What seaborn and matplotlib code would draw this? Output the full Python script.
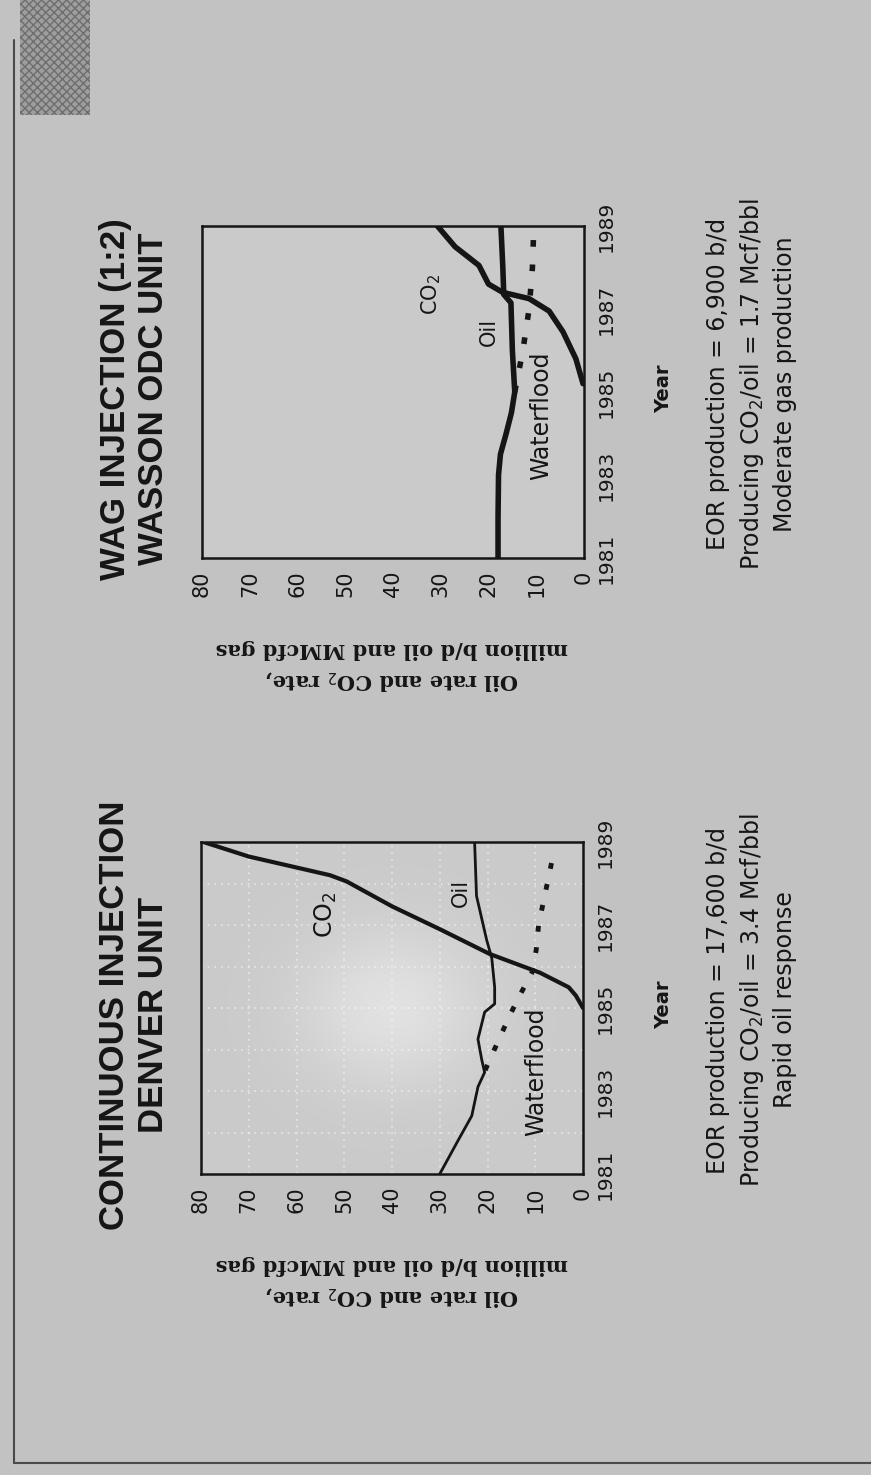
import numpy as np
import pandas as pd
import matplotlib
matplotlib.use("Agg")
import matplotlib.pyplot as plt
import seaborn as sns
from matplotlib.patches import Rectangle
from matplotlib.lines import Line2D

# ---- Wasson ODC Unit, WAG injection (1:2) ----
wag_oil_year = [1981.0, 1982.0, 1983.0, 1983.5, 1984.0, 1984.5, 1985.0, 1986.0, 1987.15, 1987.35, 1988.0, 1989.0]
wag_oil_rate = [18.0, 18.0, 17.9, 17.5, 16.3, 15.2, 14.5, 15.0, 15.3, 16.8, 17.0, 17.4]
wag_co2_year = [1985.2, 1985.8, 1986.45, 1986.95, 1987.25, 1987.4, 1987.6, 1988.05, 1988.5, 1989.0]
wag_co2_rate = [0.2, 1.7, 4.4, 7.3, 11.5, 17.0, 20.0, 22.0, 27.0, 30.7]
wag_wf_year = [1985.0, 1986.0, 1987.0, 1988.0, 1989.0]
wag_wf_rate = [14.5, 12.8, 11.5, 10.8, 10.5]

# ---- Denver Unit, continuous injection ----
cont_oil_year = [1981.0, 1981.8, 1982.4, 1983.1, 1983.45, 1983.75, 1984.25, 1984.9, 1985.1, 1985.5, 1986.2, 1986.65, 1987.7, 1989.0]
cont_oil_rate = [30.0, 26.2, 23.3, 22.0, 20.6, 21.2, 22.0, 20.6, 18.5, 18.5, 19.1, 20.2, 22.3, 22.7]
cont_co2_year = [1985.0, 1985.3, 1985.5, 1985.85, 1986.3, 1986.9, 1987.45, 1988.05, 1988.2, 1988.65, 1989.0]
cont_co2_rate = [0.0, 1.5, 3.0, 9.0, 19.5, 30.0, 40.0, 49.5, 53.0, 70.0, 79.5]
cont_wf_year = [1983.5, 1984.4, 1984.9, 1985.4, 1985.85, 1986.4, 1987.0, 1987.5, 1988.1, 1988.6, 1988.85]
cont_wf_rate = [20.5, 17.0, 15.0, 12.8, 10.7, 9.8, 9.3, 8.4, 7.3, 6.4, 6.0]

# ---- axis ticks and text ----
rate_ticks = [0, 10, 20, 30, 40, 50, 60, 70, 80]
year_ticks = [1981, 1983, 1985, 1987, 1989]
wag_title = ["WAG INJECTION (1:2)", "WASSON ODC UNIT"]
cont_title = ["CONTINUOUS INJECTION", "DENVER UNIT"]
wag_notes = ["EOR production = 6,900 b/d",
             "Producing CO$_2$/oil = 1.7 Mcf/bbl",
             "Moderate gas production"]
cont_notes = ["EOR production = 17,600 b/d",
              "Producing CO$_2$/oil = 3.4 Mcf/bbl",
              "Rapid oil response"]
rate_label = "Oil rate and CO$_2$ rate,\nmillion b/d oil and MMcfd gas"
year_label = "Year"

W, H = 871, 1475
PAGE = "#c2c2c2"
PANEL = "#cacaca"
INK = "#151515"

sns.set_style("white")
plt.rcParams["font.family"] = ["DejaVu Sans"]
plt.rcParams["mathtext.fontset"] = "dejavusans"

fig = plt.figure(figsize=(W / 100, H / 100), dpi=100)
fig.patch.set_facecolor(PAGE)


def fx(px):
    return px / W


def fy(py):
    return 1 - py / H


def draw_panel(left, top, series, labels, glow=False, grid=False):
    ax = fig.add_axes([fx(left), fy(top + 332), fx(382), 332 / H])
    ax.set_facecolor(PANEL)
    if glow:
        gx, gy = np.meshgrid(np.linspace(0, 1, 200), np.linspace(0, 1, 200))
        r2 = (gx - 0.5) ** 2 + (gy - 0.5) ** 2
        img = np.ones((200, 200, 4))
        img[..., 3] = 0.45 * np.exp(-r2 / 0.06)
        ax.imshow(img, extent=(0, 1, 0, 1), transform=ax.transAxes,
                  aspect="auto", zorder=0.2, interpolation="bilinear")
    if grid:
        for v in rate_ticks[1:-1]:
            ax.axvline(v, color="white", lw=1.2, ls=(0, (1, 3)), alpha=0.55, zorder=0.5)
        for t in range(1982, 1989):
            ax.axhline(t, color="white", lw=1.2, ls=(0, (1, 3)), alpha=0.55, zorder=0.5)
    for (rate, year, lw, ls) in series:
        df = pd.DataFrame({"rate": rate, "year": year})
        kw = dict(color=INK, lw=lw, zorder=3)
        if ls is not None:
            kw.update(linestyle=ls, dash_capstyle="butt")
        sns.lineplot(data=df, x="rate", y="year", orient="y", estimator=None,
                     sort=False, ax=ax, **kw)
    for (txt, v, t, size) in labels:
        ax.text(v, t, txt, rotation=90, ha="center", va="center",
                fontsize=size, color=INK, zorder=4)
    ax.set_xlim(80, 0)
    ax.set_ylim(1981, 1989)
    ax.set_xticks(rate_ticks)
    ax.set_xticklabels([str(v) for v in rate_ticks], rotation=90, fontsize=15,
                       color=INK)
    ax.yaxis.tick_right()
    ax.set_yticks(year_ticks)
    ax.set_yticklabels([str(y) for y in year_ticks], rotation=90, va="center",
                       fontsize=14.5, color=INK,
                       family=["Liberation Sans Narrow", "DejaVu Sans"])
    ax.tick_params(axis="both", length=0, pad=9)
    ax.set_xlabel("")
    ax.set_ylabel("")
    for s in ax.spines.values():
        s.set_visible(True)
        s.set_color(INK)
        s.set_linewidth(1.8)
    return ax


dash = (0, (1.2, 3.2))
ax_wag = draw_panel(
    202, 226,
    [(wag_oil_rate, wag_oil_year, 4.0, None),
     (wag_co2_rate, wag_co2_year, 4.0, None),
     (wag_wf_rate, wag_wf_year, 4.0, dash)],
    [("CO$_2$", 31.9, 1987.34, 15),
     ("Oil", 19.9, 1986.45, 15),
     ("Waterflood", 9.0, 1984.42, 17)],
)
ax_cont = draw_panel(
    201, 842,
    [(cont_oil_rate, cont_oil_year, 2.0, None),
     (cont_co2_rate, cont_co2_year, 3.0, None),
     (cont_wf_rate, cont_wf_year, 3.5, dash)],
    [("CO$_2$", 53.75, 1987.24, 17),
     ("Oil", 25.6, 1987.77, 15),
     ("Waterflood", 9.9, 1983.46, 17)],
    glow=True, grid=True,
)

# titles, axis captions and notes for each panel
for (title, notes, top) in [(wag_title, wag_notes, 226), (cont_title, cont_notes, 842)]:
    mid = top + 166
    for i, line in enumerate(title):
        fig.text(fx(115 + 38 * i), fy(mid + 7), line, rotation=90, ha="center",
                 va="center", fontsize=25, fontweight="bold", color=INK,
                 family=["Liberation Sans", "DejaVu Sans"])
    fig.text(fx(392), fy(top + 332 + 107), rate_label, rotation=180,
             ha="center", va="center", ma="center", fontsize=15,
             fontweight="bold", color=INK, linespacing=1.6,
             family=["DejaVu Serif"])
    fig.text(fx(664), fy(mid - 3), year_label, rotation=90, ha="center",
             va="center", fontsize=14, fontweight="bold", color=INK)
    for i, line in enumerate(notes):
        fig.text(fx(718 + 33.5 * i), fy(mid - 8), line, rotation=90,
                 ha="center", va="center", fontsize=17, color=INK)

# page border and the hatched corner block
fig.add_artist(Rectangle((fx(20), fy(115)), fx(70), 115 / H,
                         transform=fig.transFigure, facecolor="#9e9e9e",
                         edgecolor="#6e6e6e", hatch="xxxx", lw=0))
fig.add_artist(Line2D([fx(14), fx(14)], [fy(40), fy(1463)],
                      transform=fig.transFigure, color="#4a4a4a", lw=1.5))
fig.add_artist(Line2D([fx(14), fx(871)], [fy(1463), fy(1463)],
                      transform=fig.transFigure, color="#4a4a4a", lw=1.5))

fig.savefig("out.png", dpi=100, facecolor=PAGE)
